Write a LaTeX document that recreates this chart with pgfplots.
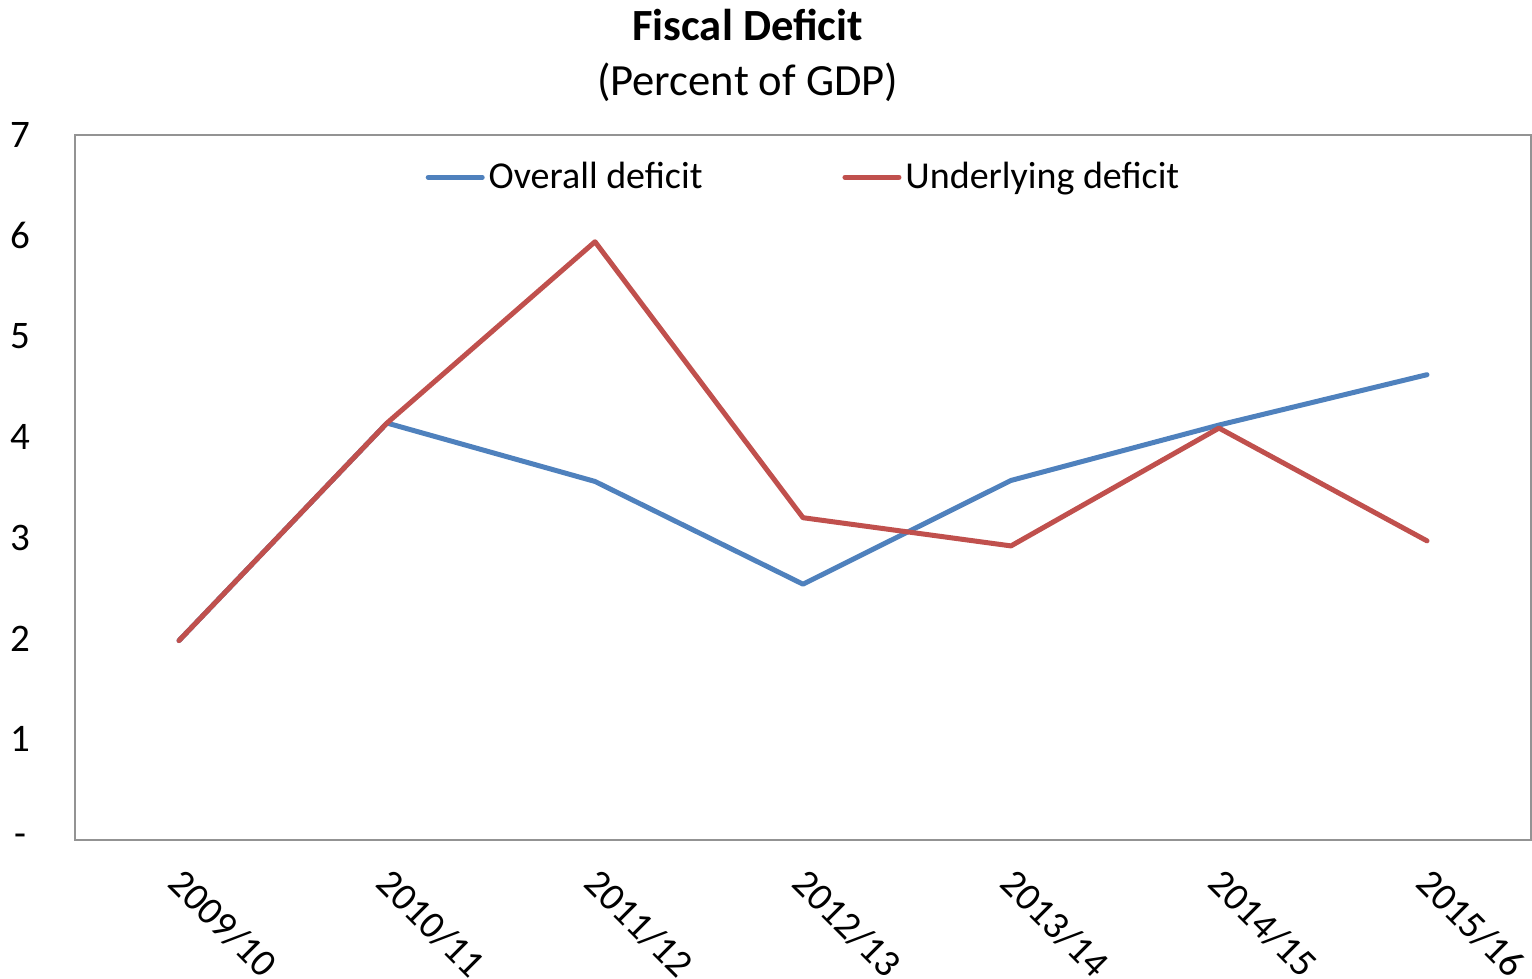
\documentclass[border=0pt]{standalone}
\usepackage{pgfplots}
\pgfplotsset{compat=1.18}
\usepackage{fontspec}
\setmainfont{Carlito}
\definecolor{blueS}{HTML}{4F81BD}
\definecolor{redS}{HTML}{C0504D}
\begin{document}
\begin{tikzpicture}
\path[use as bounding box] (-37.5pt,-69.5pt) rectangle (728.5pt,420pt);
\begin{axis}[
  anchor=south west, at={(0,0)},
  scale only axis,
  width=728pt, height=352.5pt,
  xmin=-0.5, xmax=6.5, ymin=0, ymax=7,
  xtick={0,...,6},
  xticklabels={2009/10,2010/11,2011/12,2012/13,2013/14,2014/15,2015/16},
  ytick={0,...,7},
  yticklabels={-,1,2,3,4,5,6,7},
  major tick length=0pt,
  axis line style={draw=gray!85, line width=0.8pt},
  tick label style={font=\fontsize{19.5}{22}\selectfont},
  yticklabel style={anchor=center, xshift=-27.5pt},
  xticklabel style={xshift=3.5pt, yshift=-8pt, rotate=-45, anchor=north west},
  legend style={at={(0.501,0.94)}, anchor=center, draw=none, fill=none,
    font=\fontsize{19}{22}\selectfont, legend columns=2,
    /tikz/every even column/.append style={column sep=68pt}},
  legend image code/.code={\draw[#1, line width=2.5pt, line cap=round] (0pt,0pt) -- (27pt,0pt);},
  legend cell align=left,
  clip=false,
]
\addplot[blueS, line width=2.5pt, line cap=round, line join=round] coordinates {
(0,1.98) (1,4.14) (2,3.56) (3,2.54) (4,3.57) (5,4.12) (6,4.62)};
\addlegendentry{Overall deficit}
\addplot[redS, line width=2.5pt, line cap=round, line join=round] coordinates {
(0,1.98) (1,4.14) (2,5.94) (3,3.20) (4,2.92) (5,4.09) (6,2.97)};
\addlegendentry{Underlying deficit}
\node[align=center, font=\fontsize{22.3}{27.5}\selectfont] at (rel axis cs:0.462,1.113) {\textbf{Fiscal Deficit}\\(Percent of GDP)};
\end{axis}
\end{tikzpicture}
\end{document}
